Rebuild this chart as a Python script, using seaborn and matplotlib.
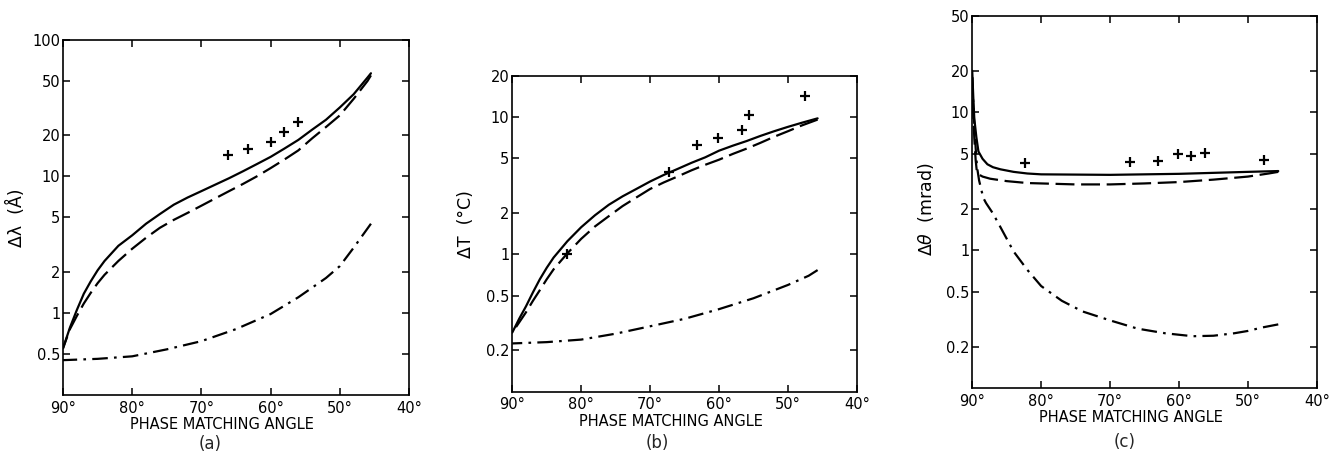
import pandas as pd
import matplotlib
matplotlib.use("Agg")
import matplotlib.pyplot as plt
import seaborn as sns
from matplotlib.ticker import FixedLocator, FixedFormatter, NullLocator

sns.set_theme(style="ticks")
plt.rcParams["font.family"] = ["DejaVu Sans"]
plt.rcParams["mathtext.fontset"] = "dejavusans"

# ---- panel (a): spectral bandwidth (Angstrom) ----
a_solid_x = [90, 89, 88, 87, 86, 85, 84, 82, 80, 78, 76, 74, 72, 70, 68, 66, 64, 62, 60,
             58, 56, 54, 52, 50, 48, 46, 45.5]
a_solid_y = [0.55, 0.78, 1.05, 1.38, 1.7, 2.05, 2.4, 3.1, 3.7, 4.5, 5.3, 6.2, 7.0, 7.8, 8.7,
             9.7, 10.9, 12.3, 13.9, 16.0, 18.5, 22, 26, 32, 40, 53, 57]
a_dash_x = [90, 89, 88, 87, 86, 85, 84, 82, 80, 78, 76, 74, 72, 70, 68, 66, 64, 62, 60,
            58, 56, 54, 52, 50, 48, 46, 45.5]
a_dash_y = [0.55, 0.76, 0.95, 1.17, 1.4, 1.65, 1.9, 2.4, 2.95, 3.55, 4.2, 4.8, 5.4, 6.1, 6.9,
            7.8, 8.8, 10.0, 11.5, 13.3, 15.5, 19, 23, 28, 37, 50, 55]
a_dd_x = [90, 85, 80, 75, 70, 65, 60, 56, 52, 50, 48, 45.5]
a_dd_y = [0.45, 0.46, 0.48, 0.54, 0.62, 0.76, 0.98, 1.3, 1.8, 2.2, 3.0, 4.5]
a_pts_x = [66.2, 63.3, 60.0, 58.1, 56.0]
a_pts_y = [14.4, 15.9, 17.9, 21.2, 25.1]

# ---- panel (b): temperature bandwidth (deg C) ----
b_solid_x = [90, 89, 88, 87, 86, 85, 84, 82, 80, 78, 76, 74, 72, 70, 68, 66, 64, 62, 60,
             58, 56, 54, 52, 50, 48, 45.7]
b_solid_y = [0.27, 0.34, 0.42, 0.53, 0.66, 0.8, 0.95, 1.25, 1.58, 1.93, 2.3, 2.65, 3.0, 3.4,
             3.8, 4.2, 4.65, 5.1, 5.7, 6.2, 6.7, 7.3, 7.9, 8.5, 9.1, 9.8]
b_dash_x = [90, 89, 88, 87, 86, 85, 84, 82, 80, 78, 76, 74, 72, 70, 68, 66, 64, 62, 60,
            58, 56, 54, 52, 50, 48, 45.7]
b_dash_y = [0.27, 0.32, 0.38, 0.46, 0.55, 0.66, 0.78, 1.02, 1.3, 1.6, 1.9, 2.25, 2.6, 3.0,
            3.35, 3.7, 4.1, 4.5, 4.9, 5.4, 5.9, 6.5, 7.2, 7.9, 8.7, 9.6]
b_dd_x = [90, 85, 80, 75, 70, 65, 60, 55, 50, 47, 45.7]
b_dd_y = [0.225, 0.23, 0.24, 0.265, 0.30, 0.34, 0.40, 0.48, 0.60, 0.70, 0.77]
b_pts_x = [82.1, 67.2, 63.2, 60.1, 56.7, 55.7, 47.5]
b_pts_y = [1.0, 4.0, 6.25, 7.06, 8.04, 10.3, 14.2]

# ---- panel (c): angular bandwidth (mrad) ----
c_solid_x = [90, 89.85, 89.7, 89.4, 89.1, 88.5, 87.8, 87, 85.9, 84, 82, 80, 70, 60, 50, 45.6]
c_solid_y = [20, 13, 9.0, 6.6, 5.2, 4.6, 4.2, 4.0, 3.86, 3.7, 3.6, 3.55, 3.52, 3.58, 3.7, 3.75]
c_dash_x = [90, 89.85, 89.7, 89.5, 89.3, 88.5, 87.4, 85, 82, 80, 75, 70, 65, 60, 55, 50, 47,
            45.6]
c_dash_y = [18, 10, 6.5, 4.5, 3.6, 3.42, 3.3, 3.17, 3.07, 3.05, 3.0, 3.0, 3.05, 3.12, 3.25,
            3.42, 3.6, 3.7]
c_dd_x = [90, 89.8, 89.5, 89.3, 89, 88.4, 88, 87, 86, 84, 82, 80, 77, 74, 70, 66, 62, 58, 55,
          52, 50, 48, 45.6]
c_dd_y = [18, 10, 5.5, 4.0, 3.2, 2.4, 2.2, 1.85, 1.5, 0.98, 0.72, 0.55, 0.43, 0.36, 0.31,
          0.27, 0.25, 0.238, 0.24, 0.25, 0.26, 0.275, 0.29]
c_pts_x = [82.3, 67.1, 63.1, 60.1, 58.2, 56.2, 47.7]
c_pts_y = [4.3, 4.36, 4.42, 4.99, 4.8, 5.07, 4.54]

x_ticks = [90, 80, 70, 60, 50, 40]
x_labels = ["90°", "80°", "70°", "60°", "50°", "40°"]
a_ticks = [100, 50, 20, 10, 5, 2, 1, 0.5]
a_labels = ["100", "50", "20", "10", "5", "2", "1", "0.5"]
b_ticks = [20, 10, 5, 2, 1, 0.5, 0.2]
b_labels = ["20", "10", "5", "2", "1", "0.5", "0.2"]
c_ticks = [50, 20, 10, 5, 2, 1, 0.5, 0.2]
c_labels = ["50", "20", "10", "5", "2", "1", "0.5", "0.2"]

DASHES = {"solid": "", "dashed": (8.5, 3), "dashdot": (7, 2.8, 1.2, 2.8)}
FIG_H = 454


def curves_frame(solid, dashed, dashdot):
    parts = []
    for name, (xs, ys) in zip(["solid", "dashed", "dashdot"], [solid, dashed, dashdot]):
        parts.append(pd.DataFrame({"angle": xs, "value": ys, "curve": name}))
    return pd.concat(parts, ignore_index=True)


def draw_panel(ax, df, pts_x, pts_y, ylim, yticks, ylabels, ylabel, ylab_y):
    sns.lineplot(data=df, x="angle", y="value", style="curve", dashes=DASHES,
                 color="black", lw=1.6, estimator=None, legend=False, ax=ax)
    sns.scatterplot(x=pts_x, y=pts_y, marker="+", s=60, color="black",
                    linewidth=1.6, ax=ax)
    ax.set_yscale("log")
    ax.set_xlim(90, 40)
    ax.set_ylim(*ylim)
    ax.xaxis.set_major_locator(FixedLocator(x_ticks))
    ax.xaxis.set_major_formatter(FixedFormatter(x_labels))
    ax.yaxis.set_major_locator(FixedLocator(yticks))
    ax.yaxis.set_major_formatter(FixedFormatter(ylabels))
    ax.yaxis.set_minor_locator(NullLocator())
    ax.xaxis.set_minor_locator(NullLocator())
    ax.tick_params(direction="in", length=5, width=1.1, top=True, right=True,
                   labelsize=10.5, color="black", labelcolor="black")
    ax.tick_params(axis="y", pad=2)
    ax.tick_params(axis="x", pad=4)
    for sp in ax.spines.values():
        sp.set_linewidth(1.2)
        sp.set_color("black")
    h_px = ax.get_position().height * FIG_H
    ax.set_xlabel("PHASE MATCHING ANGLE", fontsize=10.5, color="black")
    ax.xaxis.label.set_va("top")
    ax.xaxis.set_label_coords(0.46, -22 / h_px)
    ax.set_ylabel(ylabel, fontsize=12.5, color="black")
    ax.yaxis.label.set_va("center")
    ax.yaxis.set_label_coords(-46 / 345, ylab_y)


fig = plt.figure(figsize=(13.41, 4.54), dpi=100)
fig.patch.set_facecolor("white")

ax_a = fig.add_axes([0.047, 0.130, 0.258, 0.782])
ax_b = fig.add_axes([0.382, 0.137, 0.257, 0.696])
ax_c = fig.add_axes([0.725, 0.145, 0.257, 0.820])

draw_panel(ax_a, curves_frame((a_solid_x, a_solid_y), (a_dash_x, a_dash_y), (a_dd_x, a_dd_y)),
           a_pts_x, a_pts_y, (0.25, 100), a_ticks, a_labels, "Δλ  (Å)", 0.50)
draw_panel(ax_b, curves_frame((b_solid_x, b_solid_y), (b_dash_x, b_dash_y), (b_dd_x, b_dd_y)),
           b_pts_x, b_pts_y, (0.1, 20), b_ticks, b_labels, "ΔT  (°C)", 0.53)
draw_panel(ax_c, curves_frame((c_solid_x, c_solid_y), (c_dash_x, c_dash_y), (c_dd_x, c_dd_y)),
           c_pts_x, c_pts_y, (0.1, 50), c_ticks, c_labels, r"$\Delta\theta$  (mrad)", 0.48)

fig.text(0.157, 0.002, "(a)", fontsize=12, ha="center", va="bottom")
fig.text(0.490, 0.004, "(b)", fontsize=12, ha="center", va="bottom")
fig.text(0.839, 0.006, "(c)", fontsize=12, ha="center", va="bottom")

fig.savefig("out.png", dpi=100, facecolor="white")
plt.close(fig)
